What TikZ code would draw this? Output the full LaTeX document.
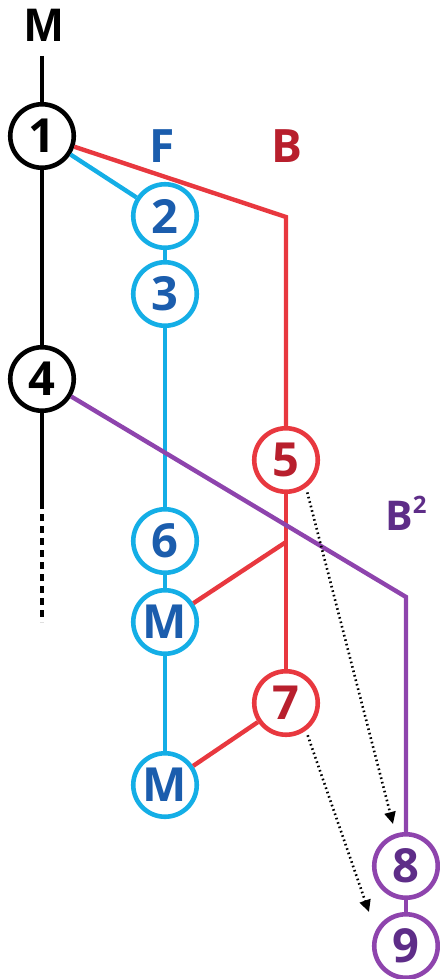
\documentclass[tikz,border=0pt]{standalone}
\usepackage{fontspec}
\setmainfont{Open Sans}
\newfontfamily\headfont{Liberation Sans}
\usetikzlibrary{arrows.meta}
\definecolor{redline}{HTML}{E8383F}
\definecolor{redtext}{HTML}{B81F2D}
\definecolor{cyanline}{HTML}{14AEE6}
\definecolor{bluetext}{HTML}{1B5DAD}
\definecolor{purpleline}{HTML}{8E44AD}
\definecolor{purpletext}{HTML}{5E2D88}
\begin{document}
\begin{tikzpicture}[x=1pt,y=-1pt,
  stn/.style={circle, draw, line width=4.6pt, minimum size=63.5pt, inner sep=0pt,
    fill=white, font=\fontsize{47}{47}\selectfont\bfseries},
  blackstn/.style={stn, draw=black, text=black},
  redstn/.style={stn, draw=redline, text=redtext},
  cyanstn/.style={stn, draw=cyanline, text=bluetext},
  purplestn/.style={stn, draw=purpleline, text=purpletext},
  lbl/.style={inner sep=0pt, anchor=base, font=\fontsize{46}{46}\selectfont\bfseries},
  blackline/.style={draw=black, line width=4.6pt},
  redlink/.style={draw=redline, line width=4.4pt},
  cyanlink/.style={draw=cyanline, line width=4.4pt},
  purplelink/.style={draw=purpleline, line width=4.4pt},
  hint/.style={draw=black, line width=2.6pt, dash pattern=on 1.6pt off 3pt,
    -{Triangle[length=12pt,width=11pt]}, shorten <=5pt}
]
\useasboundingbox (0,0) rectangle (439,979);

% column headings
\node[lbl, text=black, font=\fontsize{47}{47}\selectfont\bfseries\headfont] (hm) at (44,42) {M};
\node[lbl, text=bluetext] (hf) at (162,162) {F};
\node[lbl, text=redtext] (hb) at (287,162) {B};
\node[lbl, anchor=base west, text=purpletext, font=\fontsize{41}{41}\selectfont\bfseries] (hb2) at (385,530)
  {B\raisebox{17pt}{\fontsize{24}{24}\selectfont 2}};

% bend points and free ends
\coordinate (mtop) at (42,56);
\coordinate (mcut) at (42,502);
\coordinate (mend) at (42,622);
\coordinate (rbend) at (286,217);
\coordinate (rjoin) at (286,542);
\coordinate (pbend) at (406,597);
\coordinate (h1end) at (393,824);
\coordinate (h2end) at (369,912);

% stations
\node[blackstn] (n1) at (42,136) {1};
\node[blackstn] (n4) at (42,379) {4};
\node[cyanstn] (n2) at (165,216) {2};
\node[cyanstn] (n3) at (165,294) {3};
\node[cyanstn] (n6) at (165,541) {6};
\node[cyanstn] (m1) at (165,622) {M};
\node[cyanstn] (m2) at (165,785) {M};
\node[redstn] (n5) at (286,460) {5};
\node[redstn] (n7) at (286,703) {7};
\node[purplestn] (n8) at (406,866) {8};
\node[purplestn] (n9) at (406,946) {9};

% main line
\draw[blackline] (mtop) -- (n1);
\draw[blackline] (n1) -- (n4);
\draw[blackline] (n4) -- (mcut);
\draw[blackline, dash pattern=on 7pt off 5pt] (mcut) -- (mend);

% F branch
\draw[cyanlink] (n1) -- (n2);
\draw[cyanlink] (n2) -- (n3);
\draw[cyanlink] (n3) -- (n6);
\draw[cyanlink] (n6) -- (m1);
\draw[cyanlink] (m1) -- (m2);

% B branch
\draw[redlink] (n1) -- (rbend) -- (n5);
\draw[redlink] (n5) -- (n7);
\draw[redlink] (rjoin) -- (m1);
\draw[redlink] (n7) -- (m2);

% B^2 branch
\draw[purplelink] (n4) -- (pbend) -- (n8);
\draw[purplelink] (n8) -- (n9);

% dotted hints
\draw[hint] (n5.-54) -- (h1end);
\draw[hint] (n7.-54) -- (h2end);
\end{tikzpicture}
\end{document}
